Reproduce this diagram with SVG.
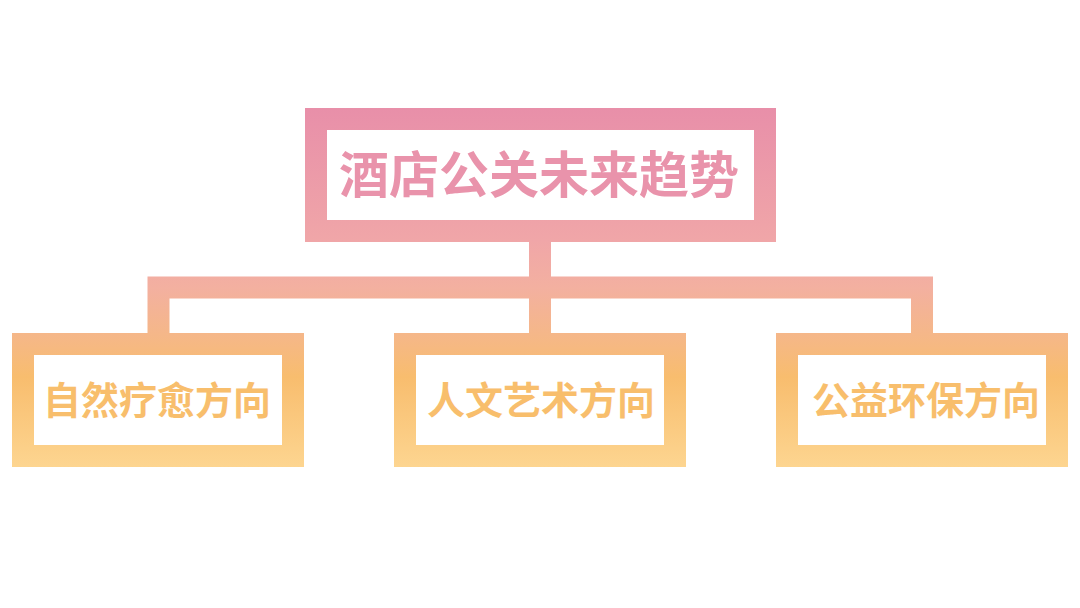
<svg xmlns="http://www.w3.org/2000/svg" width="1080" height="608" viewBox="0 0 1080 608">
  <defs>
    <linearGradient id="g" gradientUnits="userSpaceOnUse" x1="0" y1="108" x2="0" y2="467">
      <stop offset="0" stop-color="#E88FA9"/>
      <stop offset="0.37" stop-color="#F0A6A8"/>
      <stop offset="0.5" stop-color="#F3B0A0"/>
      <stop offset="0.63" stop-color="#F5B789"/>
      <stop offset="0.75" stop-color="#F8BD6E"/>
      <stop offset="1" stop-color="#FDD590"/>
    </linearGradient>
    <style>
      .box { fill: #FFFFFF; stroke: url(#g); stroke-width: 22; }
      .conn { fill: none; stroke: url(#g); stroke-width: 22; stroke-linejoin: miter; stroke-linecap: butt; }
      .t { font-family: "Noto Sans CJK SC", "Noto Sans", sans-serif; font-weight: bold; text-anchor: middle; dominant-baseline: central; }
      .title { font-size: 50px; fill: #E993AB; }
      .sub { font-size: 38px; fill: #F8BE6C; }
    </style>
  </defs>
  <rect width="1080" height="608" fill="#FFFFFF"/>
  <g id="connectors">
    <path class="conn" d="M540 242 V333"/>
    <path class="conn" d="M158.5 333 V287.5 H922 V333"/>
  </g>
  <g id="node-root">
    <rect class="box" x="316" y="119" width="449" height="112"/>
    <text class="t title" x="539" y="171">酒店公关未来趋势</text>
  </g>
  <g id="node-nature">
    <rect class="box" x="23" y="344" width="270" height="112"/>
    <text class="t sub" x="157" y="397">自然疗愈方向</text>
  </g>
  <g id="node-culture">
    <rect class="box" x="405" y="344" width="270" height="112"/>
    <text class="t sub" x="541" y="397">人文艺术方向</text>
  </g>
  <g id="node-charity">
    <rect class="box" x="787" y="344" width="270" height="112"/>
    <text class="t sub" x="926" y="397">公益环保方向</text>
  </g>
</svg>
